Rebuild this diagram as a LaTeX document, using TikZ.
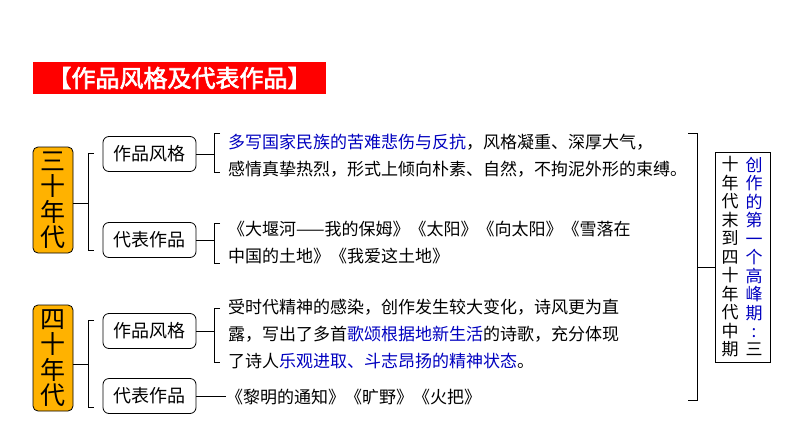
\documentclass[tikz,border=0pt]{standalone}
\usepackage{fontspec}
\setmainfont{Noto Sans CJK SC}
\newfontfamily\titlefont{Noto Sans CJK SC}[FakeBold=2.5]
\begin{document}
\begin{tikzpicture}[x=1pt,y=-1pt,
  yel/.style={draw=black,thick,fill=orange!60!yellow,rounded corners=5pt,minimum width=40,minimum height=106,align=center,inner sep=0,font=\fontsize{25}{25.5}\selectfont},
  sbox/.style={draw=black,thick,rounded corners=6pt,minimum width=93,minimum height=35,inner sep=0,font=\fontsize{18}{20}\selectfont},
  txt/.style={anchor=west,align=left,inner sep=0,font=\fontsize{17}{27}\selectfont},
  br/.style={thick}]
\useasboundingbox (0,0) rectangle (794,447);
\node[fill=red,minimum width=293,minimum height=32,inner sep=0,text=white,font=\titlefont\fontsize{24}{26}\selectfont] (title) at (179.5,78) {【作品风格及代表作品】};
\node[yel] (y3) at (53,200) {三\\十\\年\\代};
\node[yel] (y4) at (53,358) {四\\十\\年\\代};
\node[sbox] (a1) at (149.5,154) {作品风格};
\node[sbox] (a2) at (149.5,240) {代表作品};
\node[sbox] (b1) at (149.5,331) {作品风格};
\node[sbox] (b2) at (149.5,396) {代表作品};
% left brackets
\coordinate (l3) at (88,203);
\coordinate (l4) at (88,364);
\draw[br] (y3.east|-l3) -- (l3);
\draw[br] (94,153) -- (88,153) -- (88,250) -- (94,250);
\draw[br] (y4.east|-l4) -- (l4);
\draw[br] (94,320) -- (88,320) -- (88,407) -- (94,407);
% text brackets
\coordinate (t1) at (214,151);
\draw[br] (a1.east) -- (a1.east-|t1);
\draw[br] (220,133) -- (214,133) -- (214,172) -- (220,172);
\draw[br] (a2.east) -- (214,240);
\draw[br] (220,223) -- (214,223) -- (214,263) -- (220,263);
\draw[br] (b1.east) -- (214,331);
\draw[br] (220,308) -- (214,308) -- (214,362) -- (220,362);
\draw[br] (b2.east) -- (226,396);
\node[txt] (x1) at (228,156) {\textcolor{blue!75!black}{多写国家民族的苦难悲伤与反抗}，风格凝重、深厚大气，\\感情真挚热烈，形式上倾向朴素、自然，不拘泥外形的束缚。};
\node[txt] (x2) at (228,243) {《大堰河——我的保姆》《太阳》《向太阳》《雪落在\\中国的土地》《我爱这土地》};
\node[txt] (x3) at (228,334) {受时代精神的感染，创作发生较大变化，诗风更为直\\露，写出了多首\textcolor{blue!75!black}{歌颂根据地新生活}的诗歌，充分体现\\了诗人\textcolor{blue!75!black}{乐观进取、斗志昂扬的精神状态}。};
\node[txt] (x4) at (226,397) {《黎明的通知》《旷野》《火把》};
% right bracket
\draw[br] (688,133) -- (697,133) -- (697,400) -- (688,400);
\node[draw=black,minimum width=55,minimum height=210,inner sep=0] (r) at (742.5,257) {};
\draw[br] (697,267) -- (r.west|-697,267);
\node[align=center,inner sep=0,font=\fontsize{17}{18.5}\selectfont] (c2) at (730,257) {十\\年\\代\\末\\到\\四\\十\\年\\代\\中\\期};
\node[align=center,inner sep=0,text=blue!75!black,font=\fontsize{17}{18.5}\selectfont] (c1) at (754,247.5) {创\\作\\的\\第\\一\\个\\高\\峰\\期\\:};
\node[inner sep=0,font=\fontsize{17}{18}\selectfont] (c3) at (754,349) {三};
\end{tikzpicture}
\end{document}
